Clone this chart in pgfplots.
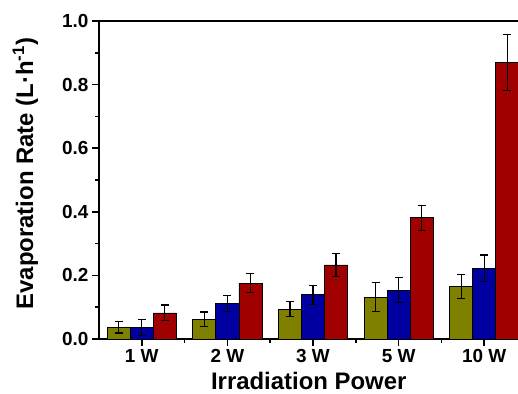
\documentclass[border=0pt]{standalone}
\usepackage{fontspec}
\setmainfont{Liberation Sans}
\usepackage{pgfplots}
\pgfplotsset{compat=1.18}
\definecolor{olivebar}{RGB}{128,128,0}
\definecolor{bluebar}{RGB}{0,0,160}
\definecolor{redbar}{RGB}{160,0,0}
\begin{document}
\begin{tikzpicture}
\useasboundingbox (0,0) rectangle (518bp,394bp);
\clip (0,0) rectangle (518bp,394bp);
\begin{axis}[
  at={(99bp,55bp)}, anchor=south west,
  scale only axis, width=428bp, height=318bp,
  xmin=0.5, xmax=5.5, ymin=0, ymax=1.0,
  axis line style={line width=2.2bp},
  xtick={1,2,3,4,5},
  xticklabels={1 W,2 W,3 W,5 W,10 W},
  minor xtick={1.5,2.5,3.5,4.5},
  ytick={0,0.2,0.4,0.6,0.8,1.0},
  minor ytick={0.1,0.3,0.5,0.7,0.9},
  xtick pos=lower, ytick pos=left,
  tick align=outside,
  major tick length=7bp, minor tick length=4bp,
  every tick/.style={line width=1.5bp, black},
  /pgf/number format/assume math mode=true,
  yticklabel style={/pgf/number format/fixed, /pgf/number format/fixed zerofill, /pgf/number format/precision=1},
  ticklabel style={font=\fontsize{19}{22}\selectfont\bfseries},
  xlabel={Irradiation Power},
  ylabel={Evaporation Rate (L·h\textsuperscript{-1})},
  xlabel style={font=\fontsize{24}{28}\selectfont\bfseries, at={(axis description cs:0.49,-0.160)}, anchor=base},
  ylabel style={font=\fontsize{24}{28}\selectfont\bfseries, at={(axis description cs:-0.154,0.52)}, anchor=base, rotate=0},
  ybar, bar width=0.269,
  every axis plot/.append style={draw=black, line width=0.8bp},
  error bars/error bar style={line width=1.2bp, black},
  error bars/error mark options={rotate=90, mark size=4bp, line width=1.2bp, black},
]
\addplot[fill=olivebar, bar shift=-0.269, error bars/.cd, y dir=both, y explicit]
  coordinates {(1,0.037) +- (0,0.018) (2,0.062) +- (0,0.023) (3,0.094) +- (0,0.024) (4,0.132) +- (0,0.046) (5,0.165) +- (0,0.037)};
\addplot[fill=bluebar, bar shift=0, error bars/.cd, y dir=both, y explicit]
  coordinates {(1,0.037) +- (0,0.025) (2,0.112) +- (0,0.025) (3,0.139) +- (0,0.030) (4,0.154) +- (0,0.039) (5,0.222) +- (0,0.042)};
\addplot[fill=redbar, bar shift=0.269, error bars/.cd, y dir=both, y explicit]
  coordinates {(1,0.082) +- (0,0.025) (2,0.176) +- (0,0.030) (3,0.233) +- (0,0.037) (4,0.381) +- (0,0.040) (5,0.870) +- (0,0.088)};
\end{axis}
\end{tikzpicture}
\end{document}
